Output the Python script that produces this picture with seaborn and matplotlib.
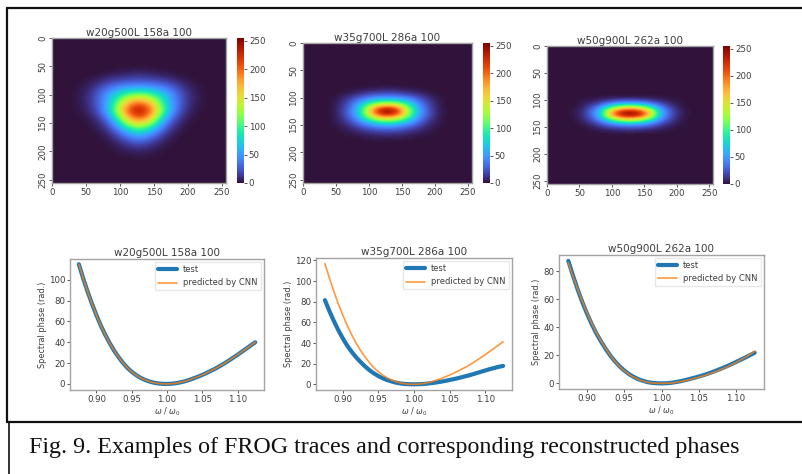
import numpy as np
import pandas as pd
import matplotlib
matplotlib.use('Agg')
import matplotlib.pyplot as plt
from matplotlib.lines import Line2D
import seaborn as sns

W, H = 802, 474
TEXT = '#3d3d3d'
EDGE = '#a3a3a3'

titles = ['w20g500L 158a 100', 'w35g700L 286a 100', 'w50g900L 262a 100']
caption = 'Fig. 9. Examples of FROG traces and corresponding reconstructed phases'

# FROG traces, only the part that is not background.
# columns are about 15 px apart, trace 1 rows about 15 px, trace 2/3 rows about 7.8 px
trace1 = [
    [0, 0, 1, 4, 7, 10, 12, 10, 7, 4, 1, 0, 0],
    [1, 4, 12, 24, 32, 36, 38, 36, 32, 24, 12, 4, 1],
    [2, 9, 26, 54, 78, 96, 104, 96, 78, 54, 26, 9, 2],
    [2, 9, 28, 60, 112, 172, 196, 172, 112, 60, 28, 9, 2],
    [1, 6, 24, 66, 140, 218, 250, 218, 140, 66, 24, 6, 1],
    [0, 2, 10, 36, 95, 168, 200, 168, 95, 36, 10, 2, 0],
    [0, 0, 4, 16, 48, 92, 114, 92, 48, 16, 4, 0, 0],
    [0, 0, 0, 5, 18, 40, 52, 40, 18, 5, 0, 0, 0],
    [0, 0, 0, 1, 5, 12, 18, 12, 5, 1, 0, 0, 0],
    [0, 0, 0, 0, 1, 2, 4, 2, 1, 0, 0, 0, 0],
]
trace2 = [
    [0, 0, 0, 1, 2, 3, 4, 3, 2, 1, 0, 0, 0],
    [0, 0, 2, 5, 9, 13, 14, 13, 9, 5, 2, 0, 0],
    [0, 2, 8, 18, 28, 35, 37, 35, 28, 18, 8, 2, 0],
    [0, 4, 15, 36, 60, 76, 82, 76, 60, 36, 15, 4, 0],
    [0, 5, 22, 52, 98, 140, 155, 140, 98, 52, 22, 5, 0],
    [0, 6, 26, 64, 132, 212, 242, 212, 132, 64, 26, 6, 0],
    [0, 6, 28, 66, 136, 222, 252, 222, 136, 66, 28, 6, 0],
    [0, 5, 22, 54, 108, 160, 180, 160, 108, 54, 22, 5, 0],
    [0, 4, 15, 38, 70, 95, 105, 95, 70, 38, 15, 4, 0],
    [0, 2, 8, 22, 36, 50, 54, 50, 36, 22, 8, 2, 0],
    [0, 1, 4, 10, 17, 24, 26, 24, 17, 10, 4, 1, 0],
    [0, 0, 2, 4, 7, 9, 10, 9, 7, 4, 2, 0, 0],
    [0, 0, 0, 1, 2, 3, 3, 3, 2, 1, 0, 0, 0],
]
trace3 = [
    [0, 1, 2, 3, 5, 6, 7, 6, 5, 3, 2, 1, 0],
    [0, 2, 6, 16, 30, 42, 46, 42, 30, 16, 6, 2, 0],
    [0, 4, 18, 44, 88, 120, 135, 120, 88, 44, 18, 4, 0],
    [1, 7, 28, 70, 158, 218, 238, 218, 158, 70, 28, 7, 1],
    [1, 7, 28, 74, 172, 238, 252, 238, 172, 74, 28, 7, 1],
    [0, 5, 20, 52, 104, 145, 160, 145, 104, 52, 20, 5, 0],
    [0, 3, 10, 25, 47, 62, 68, 62, 47, 25, 10, 3, 0],
    [0, 1, 3, 9, 16, 20, 22, 20, 16, 9, 3, 1, 0],
    [0, 0, 1, 2, 3, 4, 5, 4, 3, 2, 1, 0, 0],
]
trace_ticks = [0, 50, 100, 150, 200, 250]
cbar_ticks = [0, 50, 100, 150, 200, 250]

# spectral phase curves
omega = [0.875, 0.88125, 0.8875, 0.89375, 0.9, 0.90625, 0.9125, 0.91875, 0.925, 0.93125,
         0.9375, 0.94375, 0.95, 0.95625, 0.9625, 0.96875, 0.975, 0.98125, 0.9875, 0.99375, 1.0,
         1.00625, 1.0125, 1.01875, 1.025, 1.03125, 1.0375, 1.04375, 1.05, 1.05625, 1.0625,
         1.06875, 1.075, 1.08125, 1.0875, 1.09375, 1.1, 1.10625, 1.1125, 1.11875, 1.125]
test1 = [115, 101.3, 88.5, 76.8, 66, 56, 47.2, 39.2, 32, 25.8,
         20.3, 15.5, 11.7, 8.5, 5.9, 3.9, 2.4, 1.2, 0.5, 0.1, 0,
         0.2, 0.7, 1.5, 2.5, 3.8, 5.3, 6.9, 8.7, 10.6, 12.7,
         14.8, 17.2, 19.7, 22.4, 25.2, 28, 31, 34, 37, 40]
pred1 = test1
test2 = [81.5, 71, 61.4, 52.5, 44.6, 37.5, 31.5, 26.2, 21.6, 17.4,
         13.7, 10.6, 8, 5.8, 4.1, 2.7, 1.6, 0.8, 0.3, 0.1, 0,
         0.1, 0.3, 0.7, 1.2, 1.8, 2.5, 3.3, 4.2, 5.1, 6.1,
         7.2, 8.3, 9.5, 10.8, 12.1, 13.4, 14.7, 15.8, 16.9, 17.8]
pred2 = [116.8, 103, 90, 78, 67.2, 57, 48.2, 40, 32.8, 26.5,
         21, 16, 12.2, 8.9, 6.2, 4.1, 2.5, 1.3, 0.5, 0.1, 0,
         0.2, 0.7, 1.5, 2.6, 4, 5.5, 7.2, 9, 11, 13.1,
         15.3, 17.6, 20.2, 23, 25.8, 28.7, 31.8, 34.9, 38.1, 41.3]
test3 = [87.5, 77, 67.1, 58.1, 49.9, 42.5, 35.8, 30, 24.7, 19.9,
         15.8, 12.2, 9.2, 6.7, 4.7, 3, 1.9, 0.9, 0.4, 0.1, 0,
         0.1, 0.4, 0.9, 1.5, 2.3, 3.1, 4, 4.9, 5.9, 7,
         8.2, 9.5, 10.8, 12.2, 13.7, 15.3, 16.9, 18.5, 20.2, 21.9]
pred3 = [86, 76.5, 67.3, 58.6, 50.6, 43, 36.3, 30.3, 24.9, 20,
         15.7, 12, 9, 6.6, 4.5, 2.9, 1.7, 0.8, 0.3, 0.1, 0,
         0.1, 0.3, 0.7, 1.2, 1.9, 2.7, 3.5, 4.4, 5.4, 6.4,
         7.6, 8.9, 10.2, 11.6, 13.2, 14.9, 16.8, 18.7, 20.8, 23]

sns.set_style('white')
plt.rcParams['font.family'] = ['DejaVu Sans']

fig = plt.figure(figsize=(W / 100, H / 100), dpi=100)


def px_axes(x0, y0, x1, y1):
    return fig.add_axes([x0 / W, 1 - y1 / H, (x1 - x0) / W, (y1 - y0) / H])


def style_axes(ax):
    for spine in ax.spines.values():
        spine.set_visible(True)
        spine.set_color(EDGE)
        spine.set_linewidth(1)
    ax.tick_params(left=True, bottom=True, length=2, width=0.6, color=TEXT,
                   labelsize=6.2, labelcolor=TEXT, pad=1.5)


def plot_trace(values, n_rows, first_row, title, box, cbar_box):
    # put the read-off part into the full grid, the rest is background
    grid = np.zeros((n_rows, 17))
    part = np.array(values, dtype=float)
    grid[first_row:first_row + part.shape[0], 2:2 + part.shape[1]] = part

    ax = px_axes(*box)
    cax = px_axes(*cbar_box)
    sns.heatmap(grid, ax=ax, cbar_ax=cax, cmap='turbo', vmin=0, vmax=255,
                xticklabels=False, yticklabels=False, cbar_kws={'ticks': cbar_ticks})
    mesh = ax.collections[0]
    # smooth rendering of the same cells, the original trace has 256 px per side
    ax.imshow(grid, extent=(0, 17, n_rows, 0), aspect='auto', interpolation='bicubic',
              cmap='turbo', vmin=0, vmax=255, zorder=2)
    ax.set_xlim(0, 17)
    ax.set_ylim(n_rows, 0)
    ax.set_xticks([t * 17 / 256 for t in trace_ticks], trace_ticks, rotation=0)
    ax.set_yticks([t * n_rows / 256 for t in trace_ticks], trace_ticks, rotation=90, va='center')
    style_axes(ax)
    ax.set_title(title, fontsize=7.5, color=TEXT, pad=1.5)
    cax.tick_params(length=2, width=0.6, color=TEXT, labelsize=6.2, labelcolor=TEXT, pad=1.5)
    mesh.colorbar.outline.set_visible(False)


def plot_phase(test, pred, title, box, ylim, yticks):
    ax = px_axes(*box)
    df = pd.DataFrame({'omega': omega, 'test': test, 'pred': pred})
    sns.lineplot(data=df, x='omega', y='test', ax=ax, color='tab:blue', linewidth=3, label='test')
    sns.lineplot(data=df, x='omega', y='pred', ax=ax, color='tab:orange', linewidth=1.2,
                 alpha=0.8, label='predicted by CNN')
    ax.set_xlim(0.8625, 1.1375)
    ax.set_ylim(*ylim)
    ax.set_xticks([0.90, 0.95, 1.00, 1.05, 1.10])
    ax.set_xticklabels(['0.90', '0.95', '1.00', '1.05', '1.10'])
    ax.set_yticks(yticks)
    style_axes(ax)
    ax.set_title(title, fontsize=7.5, color=TEXT, pad=2)
    ax.set_xlabel(r'$\omega$ / $\omega_0$', fontsize=5.8, color=TEXT, labelpad=1.5)
    ax.set_ylabel('Spectral phase (rad.)', fontsize=5.9, color=TEXT, labelpad=1.5)
    ax.legend(loc='upper right', fontsize=6, labelcolor=TEXT, frameon=True, edgecolor='#e6e6e6',
              framealpha=0.9, fancybox=False, borderpad=0.35, handlelength=2.3,
              handletextpad=0.7, borderaxespad=0.4)


plot_trace(trace1, 17, 4, titles[0], (52, 38, 226, 183), (237, 38, 244, 183))
plot_trace(trace2, 33, 10, titles[1], (303, 43, 472, 183), (483, 43, 490, 183))
plot_trace(trace3, 33, 12, titles[2], (547, 46, 713, 184), (723, 46, 730, 184))

plot_phase(test1, pred1, titles[0], (70, 259, 264, 390), (-5.8, 120), [0, 20, 40, 60, 80, 100])
plot_phase(test2, pred2, titles[1], (316, 258, 512, 390), (-5.5, 122.3), [0, 20, 40, 60, 80, 100, 120])
plot_phase(test3, pred3, titles[2], (559, 255, 764, 389), (-4, 91.7), [0, 20, 40, 60, 80])

# frame around the figure and the caption box
frame = [((6.5, 802), (8, 8), 1.6), ((6.5, 6.5), (8, 422), 1.6),
         ((6.5, 802), (422, 422), 1.6), ((9, 9), (422, 474), 1.2)]
for xs, ys, lw in frame:
    fig.add_artist(Line2D([x / W for x in xs], [1 - y / H for y in ys], color='#111111', linewidth=lw))

fig.text(29 / W, 1 - 447 / H, caption, fontsize=17.25, family='Liberation Serif', color='#111111', va='center')

fig.savefig('out.png', dpi=100)
